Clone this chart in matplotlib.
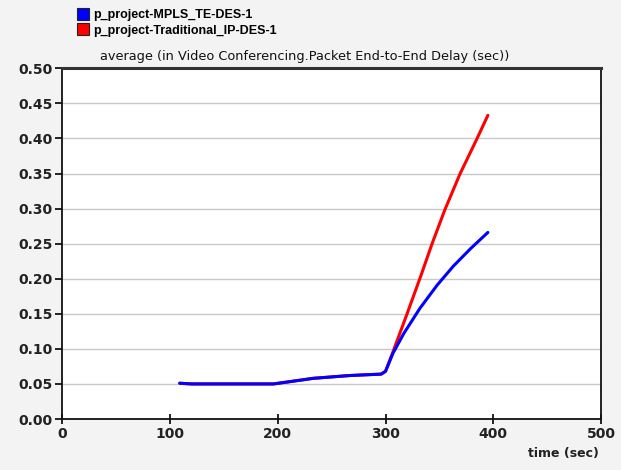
import matplotlib
matplotlib.use('Agg')
import matplotlib.pyplot as plt
from matplotlib.lines import Line2D


plt.rcParams['font.family'] = ['DejaVu Sans']

series_names = ['p_project-MPLS_TE-DES-1', 'p_project-Traditional_IP-DES-1']
series_colors = ['#0000ff', '#ff0000']

# shared early part of both runs
common_t = [109, 120, 150, 196, 210, 233, 267, 296]
common_v = [0.051, 0.050, 0.050, 0.050, 0.053, 0.058, 0.062, 0.064]

mpls_t = common_t + [300, 307, 317, 332, 348, 363, 379, 395]
mpls_v = common_v + [0.068, 0.094, 0.122, 0.158, 0.191, 0.218, 0.243, 0.266]

ip_t = common_t + [300, 306, 320, 333, 343, 355, 369, 385, 395]
ip_v = common_v + [0.068, 0.092, 0.150, 0.205, 0.249, 0.298, 0.349, 0.400, 0.433]

x_ticks = [0, 100, 200, 300, 400, 500]
y_ticks = [0.00, 0.05, 0.10, 0.15, 0.20, 0.25, 0.30, 0.35, 0.40, 0.45, 0.50]

title = 'average (in Video Conferencing.Packet End-to-End Delay (sec))'


def main():
    fig = plt.figure(figsize=(6.21, 4.70), dpi=100, facecolor='#f3f3f3')
    ax = fig.add_axes([0.1003, 0.1085, 0.8675, 0.7462])
    ax.set_facecolor('white')

    ax.plot(ip_t, ip_v, color=series_colors[1], lw=2.2, solid_capstyle='round', zorder=3)
    ax.plot(mpls_t, mpls_v, color=series_colors[0], lw=2.2, solid_capstyle='round', zorder=4)

    ax.set_xlim(0, 500)
    ax.set_ylim(0, 0.5)
    ax.set_xticks(x_ticks)
    ax.set_yticks(y_ticks)
    ax.set_xticklabels([str(t) for t in x_ticks], fontsize=10, fontweight='bold', color='#222222')
    ax.set_yticklabels(['%.2f' % v for v in y_ticks], fontsize=10, fontweight='bold', color='#222222')
    ax.tick_params(axis='x', direction='inout', length=7, width=1.2, pad=2)
    ax.tick_params(axis='y', direction='out', length=5, width=1.2, pad=2)

    for v in y_ticks[1:-1]:
        ax.axhline(v, color='#c8c8c8', lw=1.0, zorder=1)

    for side in ['left', 'bottom', 'right']:
        ax.spines[side].set_linewidth(1.3)
        ax.spines[side].set_color('#111111')
    ax.spines['top'].set_linewidth(2.2)
    ax.spines['top'].set_color('#333333')

    fig.text(0.490, 0.879, title, ha='center', va='center', fontsize=9.3, color='#111111')
    fig.text(0.965, 0.036, 'time (sec)', ha='right', va='center', fontsize=9,
             fontweight='bold', color='#222222')

    handles = [Line2D([], [], ls='none', marker='s', markersize=8,
                      markerfacecolor=c, markeredgecolor='#222222', markeredgewidth=0.8)
               for c in series_colors]
    fig.legend(handles, series_names, loc='upper left', bbox_to_anchor=(0.114, 0.997),
               frameon=False, handlelength=0.8, handletextpad=0.4,
               labelspacing=0.3, borderaxespad=0.2,
               prop={'family': 'Liberation Sans', 'weight': 'bold', 'size': 9})

    fig.savefig('out.png', dpi=100, facecolor=fig.get_facecolor())


if __name__ == '__main__':
    main()
